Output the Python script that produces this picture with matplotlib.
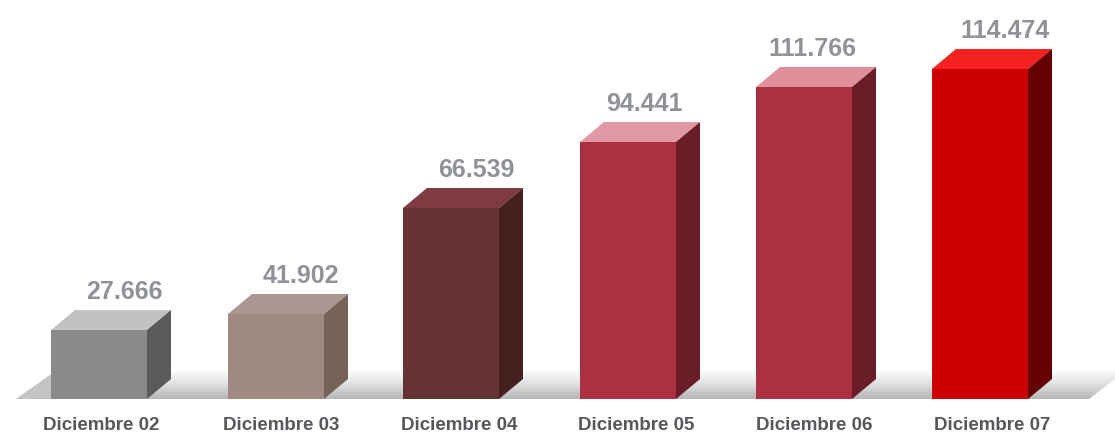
import numpy as np
import matplotlib
matplotlib.use("Agg")
import matplotlib.pyplot as plt
from matplotlib.patches import Polygon, Rectangle
from matplotlib.colors import LinearSegmentedColormap

categories = ["Diciembre 02", "Diciembre 03", "Diciembre 04", "Diciembre 05", "Diciembre 06", "Diciembre 07"]
value_labels = ["27.666", "41.902", "66.539", "94.441", "111.766", "114.474"]
drawn_heights = [69, 85, 191, 257, 312, 330]   # heights as drawn (the picture is not to scale)
front_colors = ["#8a8a8a", "#9e8a80", "#653333", "#ab3040", "#ab3040", "#cc0000"]
top_colors = ["#c2c2c2", "#ab9792", "#7e3c42", "#e098a4", "#e0909c", "#f52020"]
side_colors = ["#5a5a5a", "#75635a", "#45201f", "#6a1c28", "#6a1c28", "#650000"]

family = ["Liberation Sans", "DejaVu Sans"]

fig = plt.figure(figsize=(11.15, 4.36), dpi=100)
ax = fig.add_axes([0, 0, 1, 1])
ax.set_xlim(0, 1115)
ax.set_ylim(-37, 399)
ax.axis("off")

# floor
cmap = LinearSegmentedColormap.from_list("floor", ["#ffffff", "#dfe0e1", "#b4b6b7"])
im = ax.imshow(np.linspace(0, 1, 64)[:, None], extent=(0, 1115, 0, 29), origin="upper",
               cmap=cmap, aspect="auto", zorder=1)
ax.add_patch(Polygon([(16, 0), (50, 24), (60, 24), (60, 0)], fc="#c4c4c4", ec="none", zorder=1.5))
floor = Polygon([(16, 0), (50, 24), (50, 29), (1115, 29), (1115, 20), (1089, 0)], closed=True,
                transform=ax.transData, facecolor="none", edgecolor="none")
ax.add_patch(floor)
im.set_clip_path(floor)
ax.set_xlim(0, 1115)
ax.set_ylim(-37, 399)

lefts = [51, 228, 403, 580, 756, 932]
width, dx, dy = 96, 24, 20
label_x = [124, 301, 476, 644, 812, 1005]
category_x = [101, 281, 459, 636, 814, 992]

for i, h in enumerate(drawn_heights):
    x = lefts[i]
    ax.add_patch(Rectangle((x, 0), width, h, fc=front_colors[i], ec="none", zorder=3))
    ax.add_patch(Polygon([(x, h), (x + dx, h + dy), (x + width + dx, h + dy), (x + width, h)],
                         fc=top_colors[i], ec="none", zorder=3))
    ax.add_patch(Polygon([(x + width, 0), (x + width + dx, dy), (x + width + dx, h + dy), (x + width, h)],
                         fc=side_colors[i], ec="none", zorder=3))
    ax.text(label_x[i], h + 38, value_labels[i], ha="center", va="center", family=family,
            fontsize=18, fontweight="bold", color="#8f9299", zorder=4)
    ax.text(category_x[i], -26, categories[i], ha="center", va="center", family=family,
            fontsize=13.5, fontweight="bold", color="#55585c", zorder=4)

fig.savefig("out.png", dpi=100)
